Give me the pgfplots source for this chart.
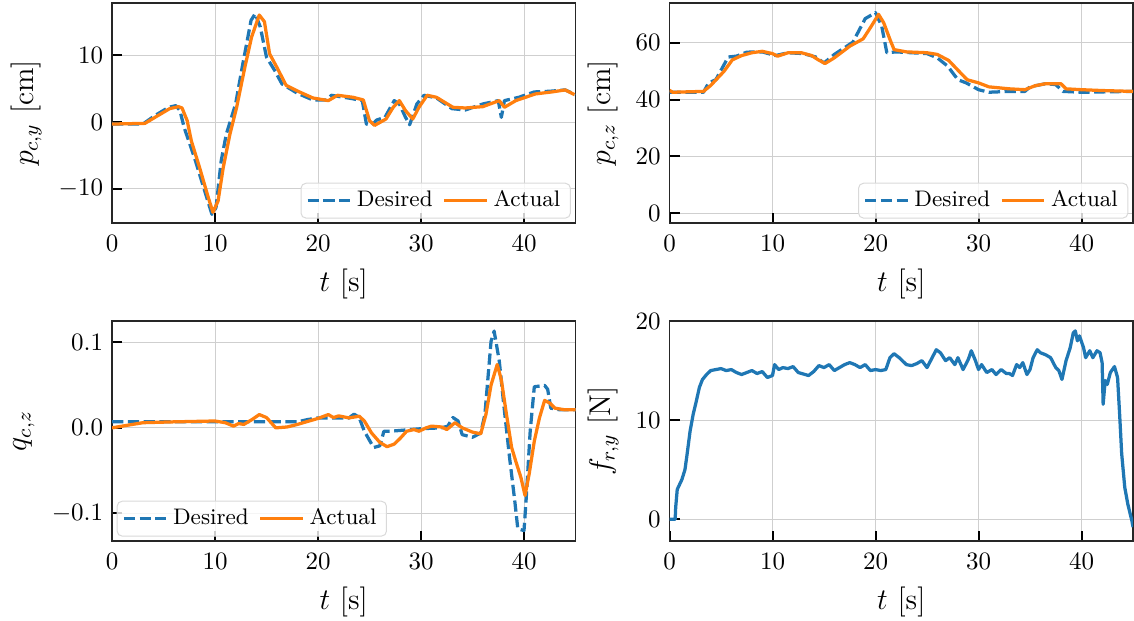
\documentclass[border=0pt]{standalone}
\usepackage{pgfplots}
\pgfplotsset{compat=1.18}
\usepgfplotslibrary{groupplots}
\definecolor{mplblue}{HTML}{1F77B4}
\definecolor{mplorange}{HTML}{FF7F0E}

\pgfplotsset{
  trk/.style={
    width=185.4pt,height=88pt,scale only axis,
    xmin=0,xmax=45,xtick={0,10,20,30,40},
    grid=major,grid style={gray!38,line width=0.4pt},
    axis line style={black!85,line width=0.5pt},
    tick align=inside,tick pos=left,
    major tick length=4pt,
    major tick style={black,line width=0.8pt},
    xticklabel style={yshift=-1.5pt},
    label style={font=\fontsize{12}{14}\selectfont},
    xlabel={$t$ [s]},
    legend columns=2,
    legend style={font=\fontsize{9}{11}\selectfont,
      rounded corners=2pt,draw=gray!30,fill=white,fill opacity=0.8,text opacity=1,
      inner xsep=2pt,inner ysep=1pt,
      /tikz/every even column/.append style={column sep=2pt}},
  },
  des/.style={mplblue,line width=1.3pt,line join=round,dash pattern=on 4.5pt off 1.8pt},
  act/.style={mplorange,line width=1.3pt,line join=round},
}

\begin{document}
\begin{tikzpicture}
\begin{groupplot}[group style={group size=2 by 2,horizontal sep=37.6pt,vertical sep=39.2pt}]

% p_{c,y}
\nextgroupplot[trk,ymin=-15.1,ymax=17.8,ytick={-10,0,10},ylabel={$p_{c,y}$ [cm]},
  legend style={at={(0.99,0.02)},anchor=south east}]
\addplot[des] coordinates {
(0,-0.3) (3.0,-0.3) (4.2,1.0) (5.5,2.2) (6.2,2.45) (6.6,1.7) (7.0,-0.8) (8.0,-5.3)
(9.0,-10.3) (9.7,-13.8) (10.1,-12.8) (10.6,-5.8) (11.1,-1.8) (12.0,2.7) (12.7,8.7)
(13.5,15.2) (13.9,16.2) (14.4,14.2) (15.0,9.7) (15.8,7.7) (16.5,5.7) (18.0,4.3)
(19.5,3.3) (20.8,3.3) (21.3,4.0) (23.3,3.5) (24.3,3.2) (24.7,-0.3) (25.2,-0.5)
(25.7,0.3) (26.5,0.7) (27.4,3.2) (27.9,2.7) (28.5,0.7) (28.9,-0.4) (29.6,2.7)
(30.3,4.0) (31.5,3.6) (33.0,2.0) (34.3,1.8) (36.0,2.7) (37.5,3.2) (37.8,0.7)
(38.1,3.2) (39.5,3.7) (41.0,4.5) (42.5,4.6) (44.0,4.8) (45.0,4.1)};
\addplot[act] coordinates {
(0,-0.3) (3.2,-0.2) (4.5,1.0) (5.6,2.0) (6.45,2.3) (6.8,2.1) (7.3,0.2) (7.7,-2.8)
(8.5,-6.8) (9.35,-11.3) (9.8,-13.5) (10.3,-11.8) (10.8,-6.8) (11.45,-1.8) (12.1,2.2)
(12.9,8.2) (13.55,12.7) (14.3,16.0) (14.8,15.0) (15.3,10.2) (16.0,8.2) (16.9,5.5)
(18.2,4.5) (19.5,3.6) (21.0,3.2) (21.9,4.0) (23.4,3.7) (24.4,3.3) (25.0,0.2)
(25.5,-0.5) (26.6,0.45) (27.3,2.2) (27.9,3.2) (28.5,1.7) (29.2,0.45) (29.8,2.2)
(30.6,4.0) (31.5,3.7) (33.1,2.2) (34.3,2.1) (36.0,2.3) (37.6,3.2) (38.1,2.2)
(39.2,3.2) (41.1,4.2) (42.7,4.5) (44.0,4.8) (44.9,4.1)};
\legend{Desired,Actual}

% p_{c,z}
\nextgroupplot[trk,ymin=-3.4,ymax=74,ytick={0,20,40,60},ylabel={$p_{c,z}$ [cm]},
  legend style={at={(0.99,0.02)},anchor=south east}]
\addplot[des] coordinates {
(0,42.6) (3.3,42.6) (3.8,45.9) (4.5,47.0) (5.7,55.0) (6.5,55.3) (7.5,56.7) (9.0,56.8)
(10.3,55.5) (11.5,56.5) (13.0,56.2) (14.2,55.0) (15.0,52.9) (16.0,55.9) (17.8,60.2)
(19.0,68.5) (20.0,70.6) (20.6,65.9) (21.1,56.5) (22.0,56.8) (25.0,56.2) (26.0,54.7)
(27.0,51.8) (28.0,47.0) (28.8,45.9) (30.0,43.5) (31.0,42.6) (33.0,42.9) (34.5,42.9)
(35.0,44.5) (36.5,45.6) (37.5,45.3) (38.2,42.9) (40.0,42.6) (45.0,42.9)};
\addplot[act] coordinates {
(0,43.3) (0.3,42.6) (3.3,42.9) (4.0,45.0) (5.3,50.0) (6.1,54.0) (7.0,55.5) (8.0,56.5)
(9.0,57.0) (10.0,56.2) (10.5,55.3) (11.5,56.5) (12.8,56.5) (13.8,55.5) (14.4,54.1)
(15.1,52.7) (16.0,54.7) (17.5,58.8) (18.8,61.4) (19.5,65.3) (20.3,70.0) (20.8,67.0)
(21.4,61.2) (21.8,57.6) (23.0,56.8) (25.0,56.5) (26.0,55.9) (27.1,53.8) (28.1,50.0)
(28.9,47.0) (30.0,45.9) (31.0,44.5) (33.0,43.8) (34.5,43.5) (35.5,44.9) (36.5,45.6)
(38.0,45.6) (38.5,43.8) (40.0,43.5) (42.0,43.2) (45.0,42.9)};
\legend{Desired,Actual}

% q_{c,z}
\nextgroupplot[trk,ymin=-0.1322,ymax=0.1248,ytick={-0.1,0,0.1},ylabel={$q_{c,z}$},
  scaled y ticks=false,
  yticklabel style={/pgf/number format/fixed,/pgf/number format/fixed zerofill,/pgf/number format/precision=1},
  legend style={at={(0.01,0.02)},anchor=south west}]
\addplot[des] coordinates {
(0,0.007) (16,0.007) (18,0.007) (19,0.0097) (20,0.0116) (23,0.0116) (23.5,0.016)
(24,0.012) (24.5,-0.004) (25.4,-0.023) (26,-0.021) (26.4,-0.004) (27,-0.004)
(28,-0.003) (30,-0.001) (32,0) (32.6,0.002) (33.1,0.012) (33.6,0.008) (34,-0.008)
(35,-0.011) (35.8,-0.006) (36.2,0.0155) (36.8,0.101) (37.1,0.113) (37.6,0.078)
(38,0.031) (38.6,-0.035) (39.1,-0.085) (39.4,-0.118) (40,-0.120) (40.2,-0.085)
(40.6,-0.004) (41.0,0.048) (42,0.0496) (42.3,0.045) (42.6,0.023) (43.5,0.021) (45,0.021)};
\addplot[act] coordinates {
(0,0) (1,0.002) (3,0.006) (6,0.007) (10,0.008) (11,0.006) (11.8,0.002) (12.3,0.005)
(12.8,0.004) (13.6,0.0097) (14.3,0.0155) (15,0.012) (15.9,0) (17,0.001) (18,0.004)
(20,0.011) (21,0.0155) (21.5,0.012) (22,0.014) (23,0.0116) (24,0.0136) (24.5,0.008)
(25.2,-0.006) (26,-0.017) (26.7,-0.022) (27.4,-0.019) (28,-0.012) (28.6,-0.004)
(29.3,-0.002) (29.8,-0.004) (30.5,0) (31,0.002) (32,0.001) (32.5,-0.002) (33.3,0.006)
(34,0) (35,-0.005) (35.8,-0.007) (36.3,0.0155) (36.8,0.050) (37.4,0.074) (37.8,0.056)
(38.3,0.0155) (38.8,-0.023) (39.2,-0.039) (39.7,-0.058) (40.1,-0.079) (40.5,-0.054)
(41,-0.0155) (41.5,0.0116) (42,0.032) (42.5,0.029) (43,0.023) (44,0.021) (45,0.021)};
\legend{Desired,Actual}

% f_{r,y}
\nextgroupplot[trk,ymin=-2.2,ymax=20,ytick={0,10,20},ylabel={$f_{r,y}$ [N]}]
\addplot[mplblue,line width=1.3pt,line join=round] coordinates {
(0,0) (0.55,0) (0.6,1.2) (0.75,3.0) (1.2,4.0) (1.5,5.0) (1.7,6.5) (2.0,8.9) (2.3,10.6)
(2.6,11.9) (2.9,13.3) (3.2,14.1) (3.6,14.6) (4.0,15.0) (4.5,15.1) (5.0,15.2) (5.5,15.0)
(6.0,15.1) (6.5,14.8) (7.0,14.6) (7.5,14.8) (8.0,15.0) (8.5,14.7) (9.0,14.9) (9.5,14.3)
(10.0,14.5) (10.2,15.6) (10.6,15.1) (11.0,15.3) (11.5,15.2) (12.0,15.4) (12.5,14.8)
(13.5,14.5) (14.0,14.9) (14.5,15.5) (15.0,15.3) (15.5,15.6) (16.0,15.0) (16.5,15.3)
(17.0,15.6) (17.5,15.8) (18.0,15.6) (18.5,15.3) (19.0,15.6) (19.5,15.0) (20.0,15.1)
(20.5,15.0) (21.0,15.1) (21.4,16.3) (21.8,16.7) (22.3,16.3) (23.0,15.6) (23.5,15.5)
(24.0,15.7) (24.5,16.0) (25.0,15.3) (25.5,16.3) (25.9,17.1) (26.3,16.8) (26.8,16.0)
(27.2,16.3) (27.7,15.6) (28.0,16.3) (28.5,15.1) (29.0,16.1) (29.3,17.0) (29.7,16.0)
(30.0,15.1) (30.3,15.6) (30.8,14.8) (31.3,15.1) (31.7,14.6) (32.2,15.1) (32.7,14.7)
(33.0,14.7) (33.3,14.5) (33.7,15.6) (34.0,15.3) (34.3,15.8) (34.7,14.6) (35.0,15.1)
(35.3,16.3) (35.7,17.1) (36.0,16.8) (36.5,16.6) (37.0,16.3) (37.5,15.3) (37.8,15.0)
(38.1,14.1) (38.5,16.0) (38.9,17.3) (39.2,18.8) (39.4,19.0) (39.6,18.0) (39.8,18.5)
(40.2,17.3) (40.4,16.3) (40.8,17.0) (41.1,16.3) (41.5,17.0) (41.8,16.8) (42.0,15.8)
(42.1,11.6) (42.3,14.0) (42.5,13.6) (42.8,14.8) (43.2,15.4) (43.5,14.3) (43.7,10.6)
(43.9,6.6) (44.2,3.2) (44.5,1.5) (44.9,-0.2) (45.0,-0.8)};

\end{groupplot}
\pgfresetboundingbox
\path ([xshift=-44.8pt,yshift=1.2pt]group c1r1.north west) rectangle ([xshift=0.4pt,yshift=-31.6pt]group c2r2.south east);
\end{tikzpicture}
\end{document}
